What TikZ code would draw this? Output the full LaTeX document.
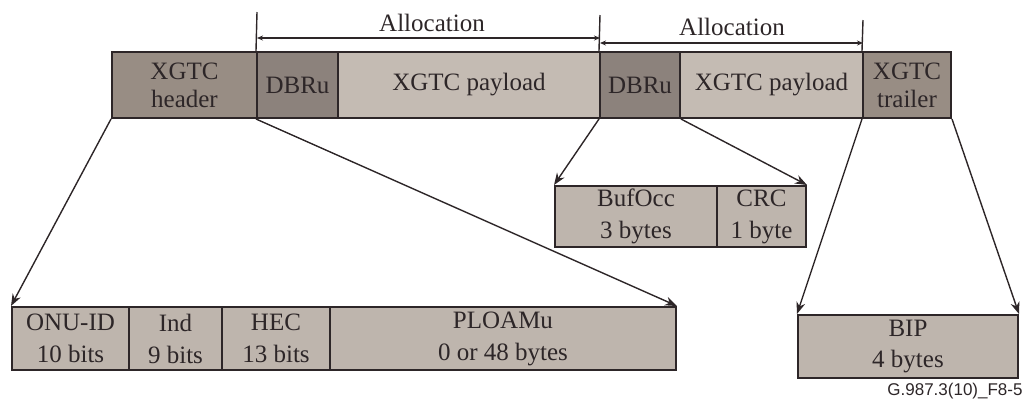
\documentclass[tikz,border=0pt]{standalone}
\usepackage{fontspec}
\setmainfont{Liberation Serif}
\newfontfamily\labelsans{Liberation Sans}
\usetikzlibrary{arrows.meta}
\definecolor{hdrc}{RGB}{152,141,132}
\definecolor{dbrc}{RGB}{140,130,124}
\definecolor{payc}{RGB}{196,187,179}
\definecolor{subc}{RGB}{190,181,173}
\definecolor{inkc}{RGB}{45,38,40}
\begin{document}
\begin{tikzpicture}[x=0.5pt,y=-0.5pt,
  field/.style={draw=inkc,line width=1pt,inner sep=0pt,align=center,text=inkc,
    font=\fontsize{12.5pt}{14pt}\selectfont},
  subfield/.style={field,fill=subc,font=\fontsize{12.5pt}{16pt}\selectfont},
  expand/.style={draw=inkc,line width=0.7pt,-{Stealth[length=6pt,width=4.5pt]}},
  bracket/.style={draw=inkc,line width=0.7pt},
  span/.style={draw=inkc,line width=0.7pt,{Stealth[length=3pt,width=2.5pt]}-{Stealth[length=3pt,width=2.5pt]}},
  lbl/.style={text=inkc,font=\fontsize{12.5pt}{14pt}\selectfont}]
\useasboundingbox (0,0) rectangle (1030,404);
% top frame
\node[field,fill=hdrc,minimum width=72.5pt,minimum height=33pt] (hdr) at (184.5,85) {XGTC\\header};
\node[field,fill=dbrc,minimum width=40.5pt,minimum height=33pt] (dbr1) at (297.5,85) {DBRu};
\node[field,fill=payc,minimum width=131pt,minimum height=33pt] (pay1) at (469,85) {XGTC payload};
\node[field,fill=dbrc,minimum width=40pt,minimum height=33pt] (dbr2) at (640,85) {DBRu};
\node[field,fill=payc,minimum width=91.5pt,minimum height=33pt] (pay2) at (771.5,85) {XGTC payload};
\node[field,fill=hdrc,minimum width=44pt,minimum height=33pt] (trl) at (907,85) {XGTC\\trailer};
% allocation brackets
\coordinate (v1) at (257,12);
\coordinate (v2) at (600,15);
\coordinate (v3) at (863,20);
\draw[bracket] (dbr1.north west) -- (v1);
\draw[bracket] (dbr2.north west) -- (v2);
\draw[bracket] (trl.north west) -- (v3);
\coordinate (h1a) at (257,38);
\coordinate (h1b) at (600,38);
\coordinate (h2a) at (600,43);
\coordinate (h2b) at (863,43);
\draw[span] (h1a) -- (h1b);
\draw[span] (h2a) -- (h2b);
\node[lbl] (al1) at (432,23) {Allocation};
\node[lbl] (al2) at (732,27) {Allocation};
% header expansion
\node[subfield,minimum width=58.5pt,minimum height=31.5pt] (onu) at (70.5,338.5) {ONU-ID\\10 bits};
\node[subfield,minimum width=46.5pt,minimum height=31.5pt] (ind) at (175.5,338.5) {Ind\\9 bits};
\node[subfield,minimum width=54pt,minimum height=31.5pt] (hec) at (276,338.5) {HEC\\13 bits};
\node[subfield,minimum width=173pt,minimum height=31.5pt] (ploam) at (503,338.5) {PLOAMu\\0 or 48 bytes};
% DBRu expansion
\node[subfield,minimum width=81pt,minimum height=30.5pt] (buf) at (636,216.5) {BufOcc\\3 bytes};
\node[subfield,minimum width=44.5pt,minimum height=30.5pt] (crc) at (761.5,216.5) {CRC\\1 byte};
% trailer expansion
\node[subfield,minimum width=110pt,minimum height=31.5pt] (bip) at (908,346.5) {BIP\\4 bytes};
% expansion connectors
\draw[expand] (hdr.south west) -- (onu.north west);
\draw[expand] (dbr1.south west) -- (ploam.north east);
\draw[expand] (dbr2.south west) -- (buf.north west);
\draw[expand] (dbr2.south east) -- (crc.north east);
\draw[expand] (trl.south west) -- (bip.north west);
\draw[expand] (trl.south east) -- (bip.north east);
% figure id
\node[text=inkc,font=\labelsans\fontsize{8.5pt}{10pt}\selectfont] (fid) at (955,391) {G.987.3(10)\_F8-5};
\end{tikzpicture}
\end{document}
